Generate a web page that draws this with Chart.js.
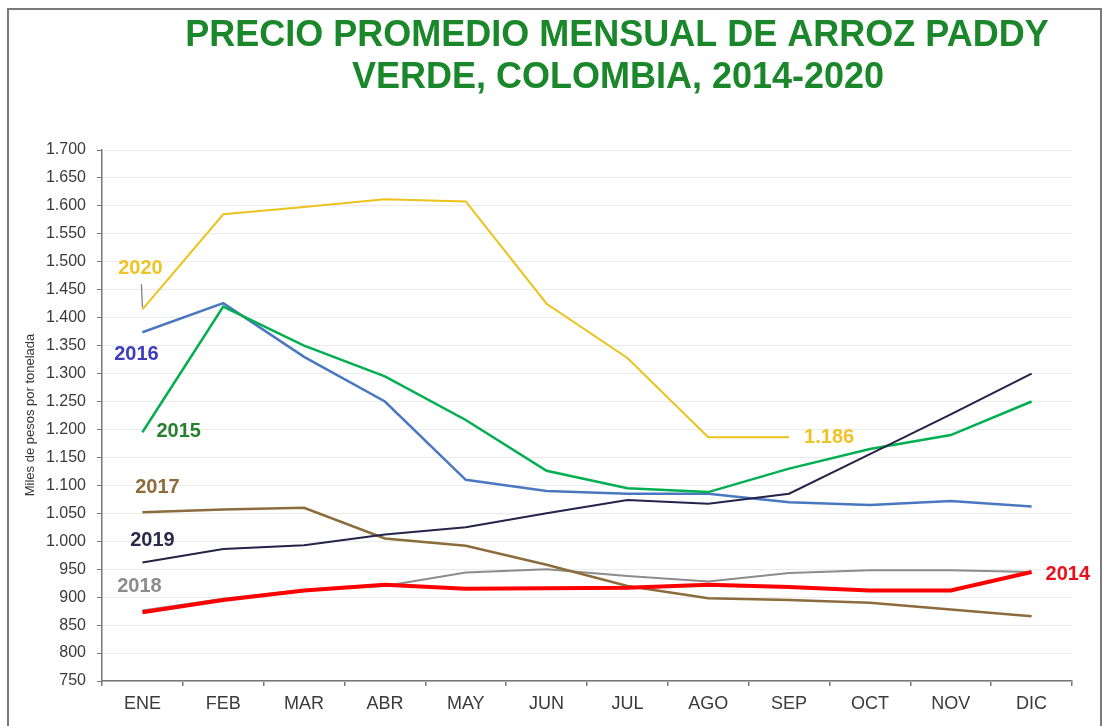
<!DOCTYPE html>
<html>
<head>
<meta charset="utf-8">
<script src="https://cdn.jsdelivr.net/npm/chart.js@4"></script>
<style>
  body { margin: 0; background: #fff; }
  #wrap { width: 1103px; height: 726px; position: relative; }
</style>
</head>
<body>
<div id="wrap"><canvas id="chart"></canvas></div>
<script>
// Datos (miles de pesos por tonelada)
const meses = ['ENE', 'FEB', 'MAR', 'ABR', 'MAY', 'JUN', 'JUL', 'AGO', 'SEP', 'OCT', 'NOV', 'DIC'];
const p2014 = [873, 895, 912, 922, 915, 916, 917, 922, 918, 912, 912, 945];
const p2015 = [1195, 1420, 1350, 1295, 1217, 1126, 1095, 1088, 1130, 1165, 1190, 1250];
const p2016 = [1374, 1426, 1330, 1250, 1110, 1090, 1085, 1085, 1070, 1065, 1072, 1062];
const p2017 = [1052, 1057, 1060, 1005, 992, 958, 920, 898, 895, 890, 878, 866];
const p2018 = [876, 897, 913, 920, 944, 950, 938, 928, 943, 948, 948, 945];
const p2019 = [962, 986, 993, 1012, 1025, 1050, 1074, 1067, 1085, 1156, 1227, 1300];
const p2020 = [1415, 1585, 1598, 1612, 1608, 1425, 1328, 1186, 1186, null, null, null];
const ultimo2020 = '1.186';

const titulo = ['PRECIO PROMEDIO MENSUAL DE ARROZ PADDY', 'VERDE, COLOMBIA, 2014-2020'];
const ejeY = 'Miles de pesos por tonelada';

function miles(v) {
  if (v < 1000) return String(v);
  return Math.floor(v / 1000) + '.' + String(v % 1000).padStart(3, '0');
}

// series: label, data, colour, width, draw order
const series = [
  { label: '2014', data: p2014, color: '#ff0000', width: 4, order: 0 },
  { label: '2015', data: p2015, color: '#00b050', width: 2.5, order: 2 },
  { label: '2016', data: p2016, color: '#4a78c0', width: 2.5, order: 3 },
  { label: '2017', data: p2017, color: '#8c6b3c', width: 2.5, order: 4 },
  { label: '2018', data: p2018, color: '#8c8c8c', width: 2, order: 5 },
  { label: '2019', data: p2019, color: '#25234a', width: 2, order: 1 },
  { label: '2020', data: p2020, color: '#ecc21c', width: 2, order: 6 }
];

// year labels placed relative to a point of each series
const etiquetas = [
  { text: '2020', serie: p2020, i: 0, dx: -2, dy: -41, color: '#efc326', align: 'center' },
  { text: '2016', serie: p2016, i: 0, dx: -6, dy: 22, color: '#3b3dbd', align: 'center' },
  { text: '2015', serie: p2015, i: 0, dx: 14, dy: -1, color: '#27802b', align: 'left' },
  { text: '2017', serie: p2017, i: 0, dx: 15, dy: -25, color: '#8c6b3c', align: 'center' },
  { text: '2019', serie: p2019, i: 0, dx: 10, dy: -22, color: '#2b2a4c', align: 'center' },
  { text: '2018', serie: p2018, i: 0, dx: -3, dy: -24, color: '#8c8c8c', align: 'center' },
  { text: '2014', serie: p2014, i: 11, dx: 14, dy: 2, color: '#e8101a', align: 'left' },
  { text: ultimo2020, serie: p2020, i: 8, dx: 15, dy: 0, color: '#efc326', align: 'left' }
];

const decoracion = {
  id: 'decoracion',
  afterDraw(chart) {
    const ctx = chart.ctx;
    const x = chart.scales.x, y = chart.scales.y;
    ctx.save();

    // marco
    ctx.strokeStyle = '#7a7a7a';
    ctx.lineWidth = 2;
    ctx.strokeRect(8, 9, 1093, 730);

    // titulo
    ctx.fillStyle = '#1b872b';
    ctx.font = 'bold 36px "Liberation Sans", Arial, sans-serif';
    ctx.textAlign = 'center';
    ctx.textBaseline = 'middle';
    ctx.fillText(titulo[0], 617, 36);
    ctx.fillText(titulo[1], 618, 78);

    // titulo eje y
    ctx.save();
    ctx.translate(30, 415);
    ctx.rotate(-Math.PI / 2);
    ctx.fillStyle = '#333';
    ctx.font = '13px "Liberation Sans", Arial, sans-serif';
    ctx.fillText(ejeY, 0, 0);
    ctx.restore();

    // linea guia de 2020
    const gx = x.getPixelForValue(0), gy = y.getPixelForValue(p2020[0]);
    ctx.strokeStyle = '#777';
    ctx.lineWidth = 1.2;
    ctx.beginPath();
    ctx.moveTo(gx - 1, gy - 25);
    ctx.lineTo(gx, gy - 2);
    ctx.stroke();

    // etiquetas de series
    ctx.font = 'bold 20px "Liberation Sans", Arial, sans-serif';
    etiquetas.forEach(e => {
      const px = x.getPixelForValue(e.i) + e.dx;
      const py = y.getPixelForValue(e.serie[e.i]) + e.dy;
      ctx.fillStyle = e.color;
      ctx.textAlign = e.align;
      ctx.fillText(e.text, px, py);
    });
    ctx.restore();
  }
};

new Chart(document.getElementById('chart'), {
  type: 'line',
  data: {
    labels: meses,
    datasets: series.map(s => ({
      label: s.label,
      data: s.data,
      borderColor: s.color,
      backgroundColor: s.color,
      borderWidth: s.width,
      order: s.order,
      pointRadius: 0,
      tension: 0,
      spanGaps: false
    }))
  },
  options: {
    responsive: true,
    maintainAspectRatio: false,
    animation: false,
    layout: { padding: { top: 150, right: 31, left: 0, bottom: 0 } },
    plugins: {
      legend: { display: false },
      tooltip: { enabled: false }
    },
    scales: {
      x: {
        offset: true,
        afterFit: s => { s.height = 45; },
        grid: { offset: true, drawOnChartArea: false, tickLength: 5, tickColor: '#777', lineWidth: 1.5 },
        border: { color: '#777', width: 1.5 },
        ticks: {
          color: '#3a3a3a',
          font: { size: 18, family: '"Liberation Sans", Arial, sans-serif' },
          padding: 7
        }
      },
      y: {
        min: 750,
        max: 1700,
        afterFit: s => { s.width = 102; },
        grid: { color: '#ebebeb', tickColor: '#777', tickLength: 5, lineWidth: 1 },
        border: { color: '#777', width: 1.5 },
        ticks: {
          stepSize: 50,
          color: '#3a3a3a',
          font: { size: 16, family: '"Liberation Sans", Arial, sans-serif' },
          padding: 11,
          callback: v => miles(v)
        }
      }
    }
  },
  plugins: [decoracion]
});
</script>
</body>
</html>
